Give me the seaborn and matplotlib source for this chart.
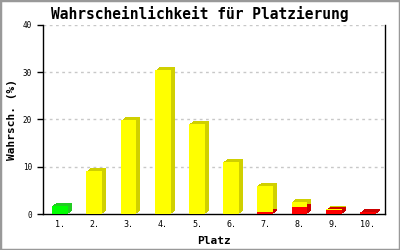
import matplotlib
matplotlib.use("Agg")
import matplotlib.pyplot as plt
import matplotlib.transforms as mtransforms
from matplotlib.patches import Rectangle
import seaborn as sns
import pandas as pd

places = ["1.", "2.", "3.", "4.", "5.", "6.", "7.", "8.", "9.", "10."]
green = [1.7, 0, 0, 0, 0, 0, 0, 0, 0, 0]
yellow = [0, 9.0, 19.8, 30.4, 19.0, 11.0, 5.6, 1.05, 0.15, 0]
red = [0, 0, 0, 0, 0, 0, 0.35, 1.55, 0.85, 0.35]
yticks = [0, 10, 20, 30, 40]

title = "Wahrscheinlichkeit für Platzierung"
xlabel = "Platz"
ylabel = "Wahrsch. (%)"

sns.set_style("white")
plt.rcParams["font.family"] = ["DejaVu Sans Mono", "DejaVu Sans"]
plt.rcParams["lines.scale_dashes"] = False
plt.rcParams["text.color"] = "black"
plt.rcParams["axes.labelcolor"] = "black"
plt.rcParams["xtick.color"] = "black"
plt.rcParams["ytick.color"] = "black"

fig = plt.figure(figsize=(4, 2.5), dpi=100)
ax = fig.add_axes([43 / 400, 36 / 250, 342 / 400, 189 / 250])

df = pd.DataFrame({"place": places, "green": green, "yellow": yellow, "red": red})
df["total"] = df["yellow"] + df["red"]

width = 0.46
sns.barplot(data=df, x="place", y="total", color="#ffff00", saturation=1,
            width=width, ax=ax, linewidth=0, zorder=3)
n_y = len(ax.patches)
sns.barplot(data=df, x="place", y="red", color="#ff0000", saturation=1,
            width=width, ax=ax, linewidth=0, zorder=3)
n_r = len(ax.patches)
sns.barplot(data=df, x="place", y="green", color="#00ff00", saturation=1,
            width=width, ax=ax, linewidth=0, zorder=3)

patches = list(ax.patches)
for i, p in enumerate(patches):
    if i < n_y:
        c = "#d0d000"
    elif i < n_r:
        c = "#cc0000"
    else:
        c = "#22cc22"
    if p.get_height() <= 0:
        continue
    for k in range(1, 5):
        offk = mtransforms.ScaledTranslation(k / 100, 0.75 * k / 100, fig.dpi_scale_trans)
        r = Rectangle((p.get_x(), p.get_y()), p.get_width(), p.get_height(),
                      transform=ax.transData + offk, facecolor=c, linewidth=0,
                      zorder=2 if i < n_y else 2.5)
        ax.add_patch(r)

ax.set_ylim(0, 40)
ax.set_xlim(-0.5, 9.5)
ax.set_yticks(yticks)
ax.set_yticklabels([str(v) for v in yticks])

for v in yticks[1:]:
    ax.axhline(v, color="#c8c8c8", linewidth=1, linestyle=(0, (2, 2.5)), zorder=1)

for s in ["left", "bottom", "right"]:
    ax.spines[s].set_visible(True)
    ax.spines[s].set_color("black")
    ax.spines[s].set_linewidth(1)
ax.spines["top"].set_visible(False)

ax.tick_params(axis="y", length=4, width=1, color="black", pad=4, labelsize=5.5, direction="out", left=True)
ax.tick_params(axis="x", length=0, pad=4, labelsize=6)

ax.set_xlabel(xlabel, fontsize=8, fontweight="bold", labelpad=5, color="black")
ax.set_ylabel(ylabel, fontsize=8, fontweight="bold", labelpad=4, color="black")
fig.text(0.5, 0.945, title, ha="center", va="center", fontsize=10.5,
         fontweight="bold", color="black")

fig.patches.append(Rectangle((0, 0), 1, 1, transform=fig.transFigure, fill=False,
                             edgecolor="#999999", linewidth=2.5))

fig.savefig("out.png", dpi=100)
